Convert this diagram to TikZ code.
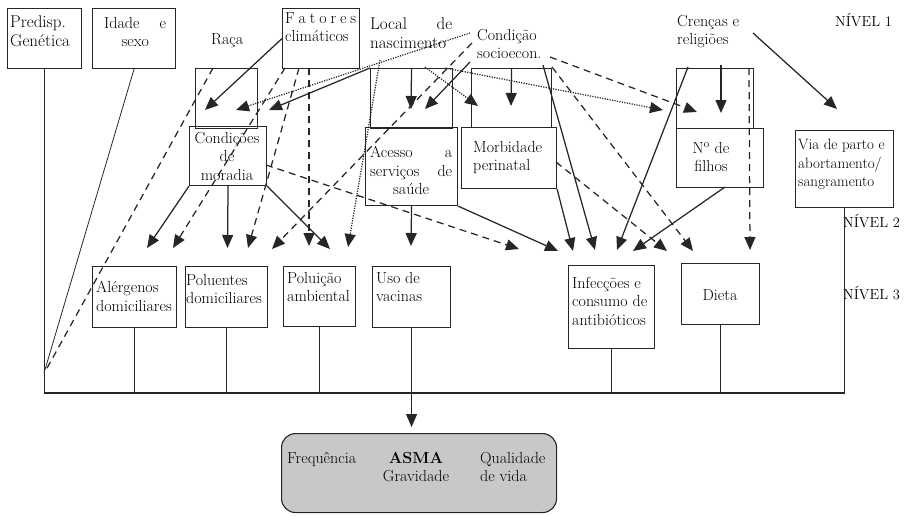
\documentclass[tikz,border=0pt]{standalone}
\usepackage{fontspec}
\usetikzlibrary{arrows.meta}
\tikzset{
  bx/.style={draw=black!85, line width=1.1pt, inner sep=0pt, anchor=north west},
  tx/.style={inner sep=0pt, font=\fontsize{16}{18.5}\selectfont, text=black},
  lvl/.style={inner sep=0pt, font=\fontsize{14.5}{17}\selectfont, text=black, anchor=base west},
  con/.style={line width=1.25pt, draw=black!85},
  arr/.style={con, -{Triangle[length=13pt,width=11pt]}},
  dsh/.style={dash pattern=on 7pt off 5pt},
  dtd/.style={dash pattern=on 1.2pt off 1.3pt},
}
\begin{document}
\begin{tikzpicture}[x=1pt,y=-1pt]
\useasboundingbox (0,0) rectangle (907,515);

% ---------- level 1 boxes ----------
\node[bx, minimum width=74pt, minimum height=60pt] (pg) at (7,8) {};
\node[bx, minimum width=83pt, minimum height=60pt] (id) at (92,8) {};
\node[bx, minimum width=77pt, minimum height=60pt] (fc) at (282,8) {};

% ---------- receiving boxes and level 2 ----------
\node[bx, minimum width=62pt, minimum height=60pt] (rU) at (195,68) {};
\node[bx, minimum width=77pt, minimum height=59pt] (cm) at (189,126) {};
\node[bx, minimum width=82pt, minimum height=60pt] (lU) at (370,68) {};
\node[bx, minimum width=92pt, minimum height=78pt] (ac) at (365,127) {};
\node[bx, minimum width=80pt, minimum height=59pt] (mU) at (471,68) {};
\node[bx, minimum width=95pt, minimum height=61pt] (mp) at (461,127) {};
\node[bx, minimum width=77pt, minimum height=60pt] (cU) at (676,68) {};
\node[bx, minimum width=87pt, minimum height=59pt] (nf) at (676,128) {};
\node[bx, minimum width=98pt, minimum height=77pt] (vp) at (795,130) {};

% ---------- level 3 ----------
\node[bx, minimum width=84pt, minimum height=61pt] (al) at (92,266) {};
\node[bx, minimum width=82pt, minimum height=61pt] (pd) at (185,266) {};
\node[bx, minimum width=72pt, minimum height=60pt] (pa) at (283,266) {};
\node[bx, minimum width=78pt, minimum height=61pt] (uv) at (372,266) {};
\node[bx, minimum width=86pt, minimum height=83pt] (ic) at (568,265) {};
\node[bx, minimum width=78pt, minimum height=61pt] (dt) at (681,263) {};

% ---------- outcome ----------
\node[bx, fill={rgb,255:red,200;green,200;blue,200}, rounded corners=14pt,
      minimum width=275pt, minimum height=79pt] (asma) at (281,433) {};

% ---------- texts ----------
\node[tx, anchor=north west, align=left, font=\fontsize{17}{19}\selectfont] (predT) at (10,15) {Predisp.\\Genética};
\node[tx, anchor=north west, align=center] (idT) at (104,17) {\makebox[62pt][s]{Idade\hfill e}\\sexo};
\node[tx, anchor=base west] (racaT) at (211,44) {Raça};
\node[tx, anchor=north west, align=left] (fcT) at (285,12) {\makebox[71pt][s]{F\hfill a\hfill t\hfill o\hfill r\hfill e\hfill s}\\climáticos};
\node[tx, anchor=north west, align=left, font=\fontsize{17}{19}\selectfont] (locT) at (370,17) {\makebox[82pt][s]{Local\hfill de}\\nascimento};
\node[tx, anchor=north west, align=left] (condT) at (477,29) {Condição\\socioecon.};
\node[tx, anchor=north west, align=left] (crT) at (677,15) {Crenças e\\religiões};
\node[lvl] (n1) at (835,26) {NÍVEL 1};

\node[tx, anchor=north, align=center] (cmT) at (227,132) {Condições\\de\\moradia};
\node[tx, anchor=north west, align=center] (acT) at (370,146) {\makebox[82pt][s]{Acesso\hfill a}\\\makebox[82pt][s]{serviços\hfill de}\\saúde};
\node[tx, anchor=north west, align=left] (mpT) at (473,141) {Morbidade\\perinatal};
\node[tx, anchor=north, align=center] (nfT) at (711,142) {N\textsuperscript{o} de\\filhos};
\node[tx, anchor=north west, align=left, font=\fontsize{15}{18.5}\selectfont] (vpT) at (798,139) {Via de parto e\\abortamento/\\sangramento};

\node[tx, anchor=north west, align=left] (alT) at (96,281) {Alérgenos\\domiciliares};
\node[tx, anchor=north west, align=left] (pdT) at (186,274) {Poluentes\\domiciliares};
\node[tx, anchor=north west, align=left] (paT) at (287,272) {Poluição\\ambiental};
\node[tx, anchor=north west, align=left] (uvT) at (376,272) {Uso de\\vacinas};
\node[tx, anchor=north west, align=left] (icT) at (572,277) {Infecções e\\consumo de\\antibióticos};
\node[tx, anchor=base] (dtT) at (720,300) {Dieta};
\node[lvl] (n2) at (843,227) {NÍVEL 2};
\node[lvl] (n3) at (843,299) {NÍVEL 3};

\node[tx, anchor=base west] (fqT) at (287,463) {Frequência};
\node[tx, anchor=north, align=center] (asT) at (416,452) {\textbf{ASMA}\\Gravidade};
\node[tx, anchor=north west, align=left] (qvT) at (480,452) {Qualidade\\de vida};

% ---------- free ends ----------
\coordinate (sRaca) at (213,68);
\coordinate (f1) at (285,68);
\coordinate (f2) at (299,68);
\coordinate (f3) at (309,68);
\coordinate (cT1) at (470,33);
\coordinate (cD5) at (472,43);
\coordinate (cS3) at (470,62);
\coordinate (cD7) at (550,57);
\coordinate (cS14) at (543,65);
\coordinate (cD8) at (552,67);
\coordinate (lT2) at (380,60);
\coordinate (lT3) at (425,67);
\coordinate (lT4) at (445,68);
\coordinate (crS6) at (721,65);
\coordinate (crS7) at (753,33);
\coordinate (crS15) at (688,67);
\coordinate (cUd) at (749,68);
\coordinate (cmE) at (266,165);
\coordinate (mpE) at (556,162);
\coordinate (nfS) at (725,187);

\coordinate (tR1) at (205,110);
\coordinate (tR2) at (236,110);
\coordinate (tR3) at (269,110);
\coordinate (tL1) at (411,109);
\coordinate (tL2) at (425,109);
\coordinate (tM1) at (478,106);
\coordinate (tM2) at (511,106);
\coordinate (tN1) at (663,110);
\coordinate (tN2) at (697,112);
\coordinate (tN3) at (721,113);
\coordinate (tV) at (837,109);
\coordinate (tA1) at (147,248);
\coordinate (tA2) at (173,248);
\coordinate (tP1) at (227.5,248);
\coordinate (tP2) at (248,248);
\coordinate (tQ1) at (272,249);
\coordinate (tQ2) at (309,246);
\coordinate (tQ3) at (330,249);
\coordinate (tQ4) at (348,247);
\coordinate (tU) at (411,246);
\coordinate (tI0) at (519,249);
\coordinate (tI1) at (558,251);
\coordinate (tI2) at (573,251);
\coordinate (tI3) at (595,250);
\coordinate (tI4) at (617,250);
\coordinate (tI5) at (633,251);
\coordinate (tD1) at (667,251);
\coordinate (tD2) at (693,251);
\coordinate (tD3) at (750,250);
\coordinate (jA) at (44,373);
\coordinate (jB) at (46,370);
\coordinate (busY) at (0,393);

% ---------- level 1 -> receiving boxes ----------
\draw[arr] (fc.west) -- (tR1);
\draw[arr, dtd] (cT1) -- (tR2);
\draw[arr] (lU.north west) -- (tR3);
\draw[arr] (lU.north) -- (tL1);
\draw[arr] (cS3) -- (tL2);
\draw[arr, dtd] (lT3) -- (tM1);
\draw[arr] (mU.north) -- (tM2);
\draw[arr, dtd] (lT4) -- (tN1);
\draw[arr, dsh] (cD7) -- (tN2);
\draw[arr] (crS6) -- (tN3);
\draw[arr] (crS7) -- (tV);

% ---------- to level 3 ----------
\draw[con, dsh] (sRaca) -- (jB);
\draw[con, line width=0.8pt] (id.south) -- (jA);
\draw[arr, dsh] (f1) -- (tA2);
\draw[arr, dsh] (f2) -- (tP2);
\draw[arr, dsh] (f3) -- (tQ2);
\draw[arr] (cm.south west) -- (tA1);
\draw[arr] (cm.south) -- (tP1);
\draw[arr] (cm.south east) -- (tQ3);
\draw[arr, dsh] (cD5) -- (tQ1);
\draw[arr, dtd] (lT2) -- (tQ4);
\draw[arr, dsh] (cmE) -- (tI0);
\draw[arr] (ac.south) -- (tU);
\draw[arr] (ac.south east) -- (tI1);
\draw[arr] (mp.south east) -- (tI2);
\draw[arr] (cS14) -- (tI3);
\draw[arr] (crS15) -- (tI4);
\draw[arr] (nfS) -- (tI5);
\draw[arr, dsh] (mpE) -- (tD1);
\draw[arr, dsh] (cD8) -- (tD2);
\draw[arr, dsh] (cUd) -- (tD3);

% ---------- bus to outcome ----------
\draw[con] (pg.south) |- (busY -| vp.south) -- (vp.south);
\draw[con] (al.south) -- (al.south |- busY);
\draw[con] (pd.south) -- (pd.south |- busY);
\draw[con] (pa.south) -- (pa.south |- busY);
\draw[con] (ic.south) -- (ic.south |- busY);
\draw[con] (dt.south) -- (dt.south |- busY);
\draw[arr, shorten >=6pt] (uv.south) -- (uv.south |- asma.north);
\end{tikzpicture}
\end{document}
